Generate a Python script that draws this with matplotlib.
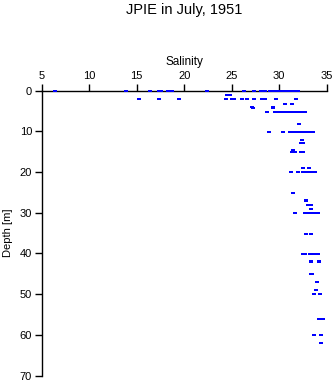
import matplotlib
matplotlib.use("Agg")
import matplotlib.pyplot as plt

plt.rcParams['font.family'] = ['Liberation Sans', 'DejaVu Sans']

title = "JPIE in July, 1951"
x_label = "Salinity"
y_label = "Depth [m]"
x_ticks = [5, 10, 15, 20, 25, 30, 35]
y_ticks = [0, 10, 20, 30, 40, 50, 60, 70]

# (depth, salinity values)
depth_0 = [6.4, 13.9, 16.4, 17.3, 17.6, 18.3, 18.7, 22.4, 26.3, 27.3, 28.1, 28.5,
           29.0, 29.2, 29.4, 29.6, 29.8, 30.0, 30.2, 30.4, 30.6, 30.9, 31.1,
           31.4, 31.6, 31.8, 32.0]
depth_1 = [24.5, 24.8]
depth_2 = [15.2, 17.3, 19.5, 24.4, 25.0, 25.2, 26.1, 26.6, 27.3, 28.2, 28.5, 29.7, 31.8]
depth_3 = [30.6, 31.4]
depth_4 = [27.1, 29.3]
depth_4b = [27.2, 29.4]
depth_5 = [28.7, 29.6, 29.8, 30.0, 30.2, 30.4, 30.6, 30.8, 31.0, 31.2, 31.4, 31.6,
           31.8, 32.0, 32.2, 32.4, 32.7]
depth_8 = [32.1]
depth_10 = [28.9, 30.4, 31.1, 31.3, 31.5, 31.7, 31.9, 32.1, 32.3, 32.5, 32.7, 32.9,
            33.1, 33.3, 33.6]
depth_12 = [32.4]
depth_13 = [32.3, 32.5]
depth_15 = [31.4, 31.7, 32.3, 32.5]
depth_15b = [31.5]
depth_19 = [32.5, 33.1]
depth_20 = [31.2, 32.0, 32.5, 32.7, 32.9, 33.1, 33.3, 33.5, 33.8]
depth_25 = [31.5]
depth_27 = [32.8]
depth_27b = [32.8]
depth_28 = [33.0, 33.3]
depth_29 = [33.4]
depth_30 = [31.7, 32.7, 32.9, 33.1, 33.3, 33.5, 33.7, 33.9, 34.1]
depth_35 = [32.8, 33.4]
depth_40 = [32.5, 32.7, 33.2, 33.4, 33.8, 34.0, 34.1]
depth_42 = [33.4, 34.2]
depth_42b = [33.4, 34.2]
depth_45 = [33.4, 33.5]
depth_47 = [34.0]
depth_49 = [33.9]
depth_50 = [33.7, 34.3]
depth_56 = [34.2, 34.4, 34.6]
depth_60 = [33.7, 34.4]
depth_62 = [34.4]

profiles = [
    (0, depth_0), (1.2, depth_1), (2.2, depth_2), (3.2, depth_3), (4.0, depth_4),
    (4.3, depth_4b), (5.2, depth_5), (8.2, depth_8), (10.2, depth_10), (12.1, depth_12),
    (13.0, depth_13), (15.0, depth_15), (14.7, depth_15b), (19.0, depth_19),
    (20.0, depth_20), (25.1, depth_25), (26.9, depth_27), (27.2, depth_27b),
    (28.1, depth_28), (29.1, depth_29), (30.0, depth_30), (35.2, depth_35),
    (40.1, depth_40), (41.9, depth_42), (42.2, depth_42b), (45.0, depth_45),
    (47.0, depth_47), (49.0, depth_49), (50.0, depth_50), (56.0, depth_56),
    (60.0, depth_60), (62.0, depth_62),
]

sal = []
dep = []
for d, vals in profiles:
    for v in vals:
        sal.append(v)
        dep.append(d)

fig = plt.figure(figsize=(3.35, 3.84), dpi=100)
ax = fig.add_axes([0.1245, 0.0221, 0.8507, 0.7422])

rect = [(-1.5, -1), (1.5, -1), (1.5, 1), (-1.5, 1), (-1.5, -1)]
ax.plot(sal, dep, linestyle='none', marker=rect, markersize=2.4,
        color='#0000ff', markeredgewidth=0, clip_on=False, zorder=3)

ax.set_xlim(5, 35)
ax.set_ylim(70, 0)
ax.xaxis.set_ticks_position('top')
ax.xaxis.set_label_position('top')
ax.set_xticks(x_ticks)
ax.set_yticks(y_ticks)
for s in ['right', 'bottom']:
    ax.spines[s].set_visible(False)
for s in ['top', 'left']:
    ax.spines[s].set_linewidth(1.0)
ax.tick_params(axis='both', direction='out', length=5, width=1, labelsize=8, pad=2)
ax.set_xlabel(x_label, fontsize=8.5, labelpad=4)
ax.set_ylabel(y_label, fontsize=8, labelpad=5)

fig.text(0.549, 0.974, title, ha='center', va='center', fontsize=10.5)

fig.savefig("out.png", dpi=100)
